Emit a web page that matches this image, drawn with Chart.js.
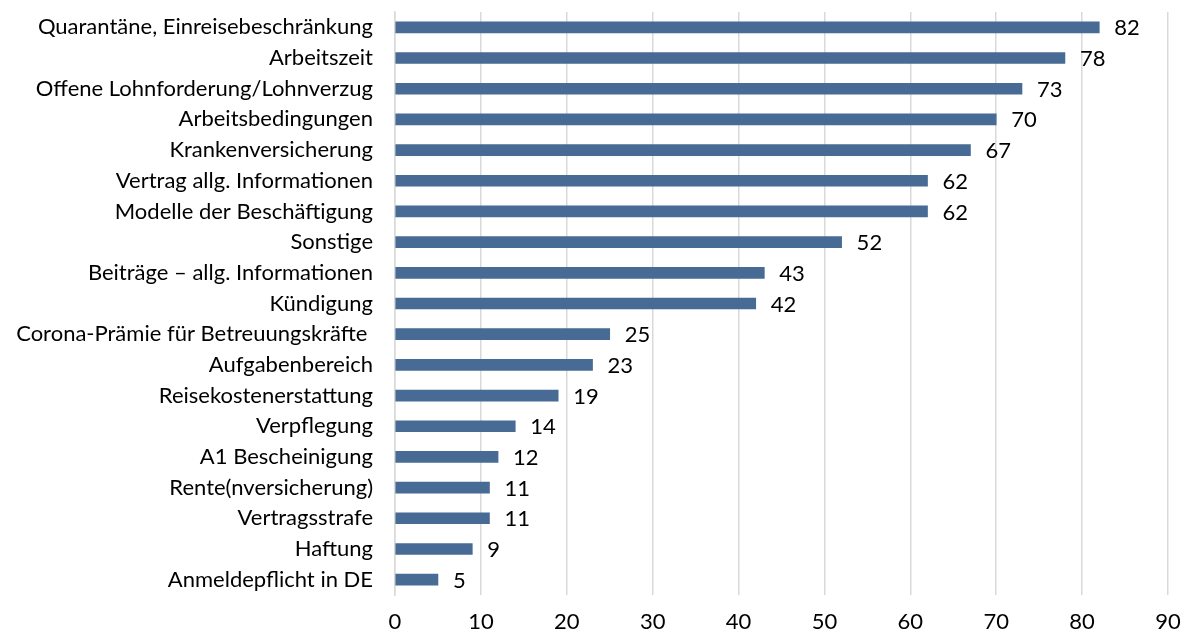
<!DOCTYPE html>
<html>
<head>
<meta charset="utf-8">
<script src="https://cdn.jsdelivr.net/npm/chart.js@4/dist/chart.umd.min.js"></script>
<style>
  html, body { margin: 0; padding: 0; background: #fff; }
  #wrap { width: 1184px; height: 635px; }
</style>
</head>
<body>
<div id="wrap"><canvas id="topics" width="1184" height="635"></canvas></div>
<script>
const topics = [
  'Quarantäne, Einreisebeschränkung',
  'Arbeitszeit',
  'Offene Lohnforderung/Lohnverzug',
  'Arbeitsbedingungen',
  'Krankenversicherung',
  'Vertrag allg. Informationen',
  'Modelle der Beschäftigung',
  'Sonstige',
  'Beiträge – allg. Informationen',
  'Kündigung',
  'Corona-Prämie für Betreuungskräfte ',
  'Aufgabenbereich',
  'Reisekostenerstattung',
  'Verpflegung',
  'A1 Bescheinigung',
  'Rente(nversicherung)',
  'Vertragsstrafe',
  'Haftung',
  'Anmeldepflicht in DE'
]
const counts = [82, 78, 73, 70, 67, 62, 62, 52, 43, 42, 25, 23, 19, 14, 12, 11, 11, 9, 5]
const xMax = 90
const xStep = 10

const fontFamily = 'Lato, "Open Sans", sans-serif'
const fontSize = 22

// value labels to the right of each bar
const barLabels = {
  id: 'barLabels',
  afterDatasetsDraw (chart) {
    const ctx = chart.ctx
    const meta = chart.getDatasetMeta(0)
    ctx.save()
    ctx.font = fontSize + 'px ' + fontFamily
    ctx.fillStyle = '#000'
    ctx.textAlign = 'left'
    ctx.textBaseline = 'middle'
    meta.data.forEach(function (bar, i) {
      ctx.fillText(String(counts[i]), bar.x + 15, bar.y + 1)
    })
    ctx.restore()
  }
}

const ctx = document.getElementById('topics').getContext('2d')
new Chart(ctx, {
  type: 'bar',
  data: {
    labels: topics,
    datasets: [{
      data: counts,
      backgroundColor: '#476b95',
      barThickness: 11
    }]
  },
  options: {
    indexAxis: 'y',
    responsive: false,
    animation: false,
    layout: { padding: { left: 0, right: 16, top: 12, bottom: 0 } },
    plugins: {
      legend: { display: false },
      tooltip: { enabled: false }
    },
    scales: {
      x: {
        min: 0,
        max: xMax,
        afterFit: function (scale) {
          scale.height = 40
          scale.paddingLeft = 0
          scale.paddingRight = 0
        },
        ticks: {
          stepSize: xStep,
          color: '#000',
          padding: 14,
          font: { family: fontFamily, size: fontSize }
        },
        grid: { color: '#d9d9d9', lineWidth: 1.5, drawTicks: false },
        border: { display: false }
      },
      y: {
        afterFit: function (scale) {
          scale.width = 395
          scale.paddingTop = 0
          scale.paddingBottom = 0
        },
        ticks: {
          color: '#000',
          padding: 22,
          autoSkip: false,
          font: { family: fontFamily, size: fontSize }
        },
        grid: { display: false, drawTicks: false },
        border: { display: true, color: '#d9d9d9', width: 1.5 }
      }
    }
  },
  plugins: [barLabels]
})
</script>
</body>
</html>
